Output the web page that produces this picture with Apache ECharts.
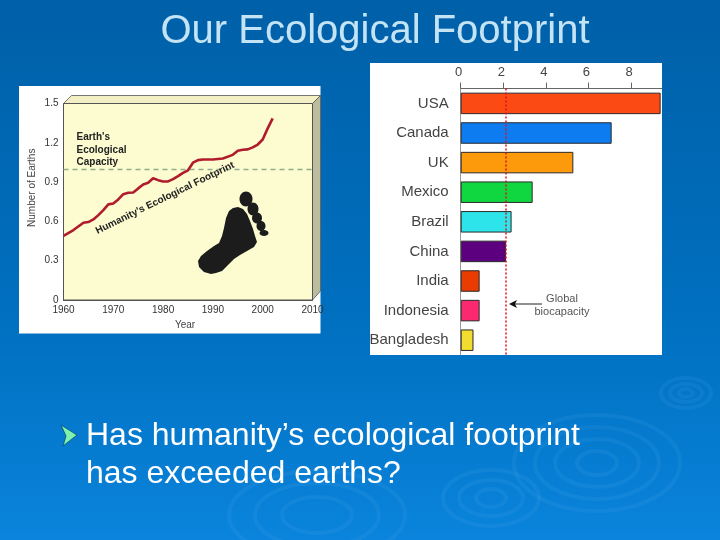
<!DOCTYPE html>
<html>
<head>
<meta charset="utf-8">
<title>Our Ecological Footprint</title>
<script src="https://cdn.jsdelivr.net/npm/echarts@6/dist/echarts.min.js"></script>
<style>
html, body { margin: 0; padding: 0; }
#chart { width: 720px; height: 540px; }
</style>
</head>
<body>
<div id="chart"></div>
<script>
const footprintYears = [1960, 1962, 1964, 1965, 1966, 1967, 1968, 1969, 1970, 1971, 1972, 1973, 1974, 1975, 1976, 1977, 1978, 1979, 1980, 1981, 1982, 1983, 1984, 1985, 1986, 1987, 1988, 1990, 1992, 1994, 1995, 1996, 1997, 1998, 1999, 2000, 2001, 2002];
const footprintValues = [0.49, 0.534, 0.59, 0.595, 0.615, 0.648, 0.686, 0.73, 0.737, 0.768, 0.808, 0.819, 0.821, 0.852, 0.882, 0.895, 0.93, 0.915, 0.905, 0.905, 0.923, 0.946, 0.971, 0.99, 1.048, 1.068, 1.073, 1.073, 1.08, 1.108, 1.139, 1.147, 1.15, 1.165, 1.187, 1.225, 1.31, 1.386];
const earthCapacity = 1;

const countries = ['USA', 'Canada', 'UK', 'Mexico', 'Brazil', 'China', 'India', 'Indonesia', 'Bangladesh'];
const countryValues = [9.39, 7.09, 5.29, 3.38, 2.39, 2.13, 0.89, 0.89, 0.6];
const countryColors = ['#fb4a14', '#0d7cf0', '#fd9a0c', '#10d640', '#2ce4ea', '#5c0080', '#e83c00', '#fb2a70', '#f2dc30'];
const biocapacity = 2.1;

const chart = echarts.init(document.getElementById('chart'), null, { renderer: 'canvas' });
const sans = '"Liberation Sans", Arial, sans-serif';

// background ripples, [cx, cy, rx, ry]
const ripples = [
    [597, 463, 83, 48], [597, 463, 62, 36], [597, 463, 42, 24], [597, 463, 20, 12],
    [491, 498, 48, 28], [491, 498, 32, 18], [491, 498, 15, 9],
    [317, 515, 88, 44], [317, 515, 62, 32], [317, 515, 35, 18],
    [686, 393, 25, 15], [686, 393, 16, 9], [686, 393, 7, 4]
];
const rippleEls = ripples.map(r => ({
    type: 'ellipse',
    shape: { cx: r[0], cy: r[1], rx: r[2], ry: r[3] },
    style: { fill: 'transparent', stroke: 'rgba(150,215,250,0.07)', lineWidth: 4 },
    silent: true,
    z: -10
}));

// foot drawn in the decoration layer
const toes = [[246, 199, 6.5, 7.5], [253, 209, 5.5, 6.5], [257, 218, 5, 5.5], [261, 226, 4.5, 5], [264, 233, 4.5, 3]];
const solePoints = [[211, 274], [204, 272], [199, 267], [198, 261], [201, 256], [207, 251], [214, 246], [219, 243], [222, 236], [224, 228], [226, 218], [229, 211], [233, 208], [238, 207], [243, 209], [247, 214], [250, 221], [253, 229], [255, 236], [257, 242], [254, 247], [247, 251], [240, 255], [234, 259], [228, 265], [222, 271], [216, 273]];
const footEls = [{
    type: 'polygon',
    shape: { points: solePoints },
    style: { fill: '#1c1c1c' },
    z: 10
}].concat(toes.map(t => ({
    type: 'ellipse',
    shape: { cx: t[0], cy: t[1], rx: t[2], ry: t[3] },
    style: { fill: '#1c1c1c' },
    z: 10
})));

const option = {
    animation: false,
    backgroundColor: {
        type: 'linear', x: 0, y: 0, x2: 0, y2: 1,
        colorStops: [{ offset: 0, color: '#0060a8' }, { offset: 0.6, color: '#0070c0' }, { offset: 1, color: '#0a84dc' }]
    },
    textStyle: { fontFamily: sans },
    grid: [
        { left: 63.5, top: 103.5, width: 249, height: 196.5, show: true, backgroundColor: '#fdfbd0', borderColor: '#555', borderWidth: 1, z: 2 },
        { left: 460.7, top: 88.6, width: 201, height: 266.4, show: false, z: 2 }
    ],
    xAxis: [
        {
            gridIndex: 0, type: 'value', min: 1960, max: 2010, interval: 10,
            axisLine: { show: true, lineStyle: { color: '#555' } },
            axisTick: { show: false },
            splitLine: { show: false },
            axisLabel: { color: '#333', fontSize: 10, margin: 5, fontFamily: sans, formatter: v => String(v) },
            name: 'Year', nameLocation: 'middle', nameGap: 20,
            nameTextStyle: { color: '#444', fontSize: 10, fontFamily: sans, padding: [0, 6, 0, 0] }
        },
        {
            gridIndex: 1, type: 'value', position: 'top', min: 0, max: 9.44, interval: 2,
            axisLine: { show: true, lineStyle: { color: '#666' } },
            axisTick: { show: true, inside: false, length: 6, lineStyle: { color: '#666' } },
            splitLine: { show: false },
            axisLabel: { color: '#444', fontSize: 13, margin: 10, padding: [0, 4, 0, 0], showMaxLabel: false, fontFamily: sans }
        }
    ],
    yAxis: [
        {
            gridIndex: 0, type: 'value', min: 0, max: 1.5, interval: 0.3,
            axisLine: { show: true, lineStyle: { color: '#555' } },
            axisTick: { show: false },
            splitLine: { show: false },
            axisLabel: { color: '#333', fontSize: 10, margin: 5, fontFamily: sans, formatter: v => v === 0 ? '0' : v.toFixed(1) },
            name: 'Number of Earths', nameLocation: 'middle', nameGap: 26,
            nameTextStyle: { color: '#444', fontSize: 10, fontFamily: sans, padding: [0, 0, 0, 28] }
        },
        {
            gridIndex: 1, type: 'category', inverse: true, data: countries,
            axisLine: { show: true, lineStyle: { color: '#999' } },
            axisTick: { show: false },
            axisLabel: { color: '#444', fontSize: 15, margin: 12, padding: [5, 0, 0, 0], fontFamily: sans }
        }
    ],
    series: [
        {
            name: "Humanity's Ecological Footprint",
            type: 'line', xAxisIndex: 0, yAxisIndex: 0, z: 5,
            data: footprintYears.map((y, i) => [y, footprintValues[i]]),
            showSymbol: false,
            lineStyle: { color: '#b01c2c', width: 2.6 },
            markLine: {
                silent: true, symbol: 'none', label: { show: false },
                lineStyle: { color: '#8fb08a', type: [5, 4], width: 1.4 },
                data: [{ yAxis: earthCapacity }]
            }
        },
        {
            name: 'Footprint per person',
            type: 'bar', xAxisIndex: 1, yAxisIndex: 1, z: 5,
            barWidth: 21.5,
            data: countryValues.map((v, i) => ({ value: v, itemStyle: { color: countryColors[i] } })),
            itemStyle: { borderColor: '#2a2a2a', borderWidth: 1 },
            markLine: {
                silent: true, symbol: 'none', label: { show: false }, z: 6,
                lineStyle: { color: '#e01020', type: [2, 2], width: 1.5 },
                data: [{ xAxis: biocapacity }]
            }
        }
    ],
    graphic: {
        elements: rippleEls.concat([
            { type: 'rect', shape: { x: 19, y: 86, width: 301.5, height: 247.5 }, style: { fill: '#fff' }, silent: true, z: -5 },
            { type: 'rect', shape: { x: 370, y: 63, width: 292, height: 292 }, style: { fill: '#fff' }, silent: true, z: -5 },
            // 3D box edges of the left plot
            { type: 'polygon', shape: { points: [[63.5, 103.5], [71.5, 95.5], [320.5, 95.5], [312.5, 103.5]] }, style: { fill: '#f3efc4', stroke: '#555', lineWidth: 0.8 }, silent: true, z: 1 },
            { type: 'polygon', shape: { points: [[312.5, 103.5], [320.5, 95.5], [320.5, 291], [312.5, 300]] }, style: { fill: '#bdbc9c', stroke: '#555', lineWidth: 0.8 }, silent: true, z: 1 },
            // pointer to the biocapacity line
            { type: 'line', shape: { x1: 512, y1: 304, x2: 542, y2: 304 }, style: { stroke: '#222', lineWidth: 1 }, silent: true, z: 10 },
            { type: 'polygon', shape: { points: [[509, 304], [517, 300], [515, 304], [517, 308]] }, style: { fill: '#111' }, silent: true, z: 10 },
            {
                type: 'text', x: 375, y: 32,
                style: { text: 'Our Ecological Footprint', font: '40px ' + sans, fill: '#c4e4f6', textAlign: 'center', textVerticalAlign: 'middle', shadowColor: 'rgba(0,40,90,0.6)', shadowBlur: 1, shadowOffsetX: 1, shadowOffsetY: 1 },
                z: 20
            },
            {
                type: 'polygon',
                shape: { points: [[61, 425], [77, 435], [63, 446], [66, 436]] },
                style: { fill: '#7ef0b0', stroke: '#0a5070', lineWidth: 0.8 },
                z: 20
            },
            {
                type: 'text', x: 86, y: 436,
                style: { text: 'Has humanity’s ecological footprint', font: '32px ' + sans, fill: '#fff', textAlign: 'left', textVerticalAlign: 'middle', shadowColor: 'rgba(0,30,80,0.8)', shadowBlur: 1, shadowOffsetX: 1.5, shadowOffsetY: 1.5 },
                z: 20
            },
            {
                type: 'text', x: 86, y: 474,
                style: { text: 'has exceeded earths?', font: '32px ' + sans, fill: '#fff', textAlign: 'left', textVerticalAlign: 'middle', shadowColor: 'rgba(0,30,80,0.8)', shadowBlur: 1, shadowOffsetX: 1.5, shadowOffsetY: 1.5 },
                z: 20
            },
            {
                type: 'text', x: 76.5, y: 131,
                style: { text: "Earth's\nEcological\nCapacity", font: 'bold 10px ' + sans, fill: '#222', lineHeight: 12.5, textAlign: 'left', textVerticalAlign: 'top' },
                z: 10
            },
            {
                type: 'text', x: 165, y: 198, rotation: 26 * Math.PI / 180,
                style: { text: "Humanity's Ecological Footprint", font: 'bold 10px ' + sans, fill: '#222', textAlign: 'center', textVerticalAlign: 'middle' },
                z: 10
            },
            {
                type: 'text', x: 562, y: 305.5,
                style: { text: 'Global\nbiocapacity', font: '11px ' + sans, fill: '#555', lineHeight: 13, textAlign: 'center', textVerticalAlign: 'middle' },
                z: 10
            }
        ]).concat(footEls)
    }
};

chart.setOption(option);
</script>
</body>
</html>
